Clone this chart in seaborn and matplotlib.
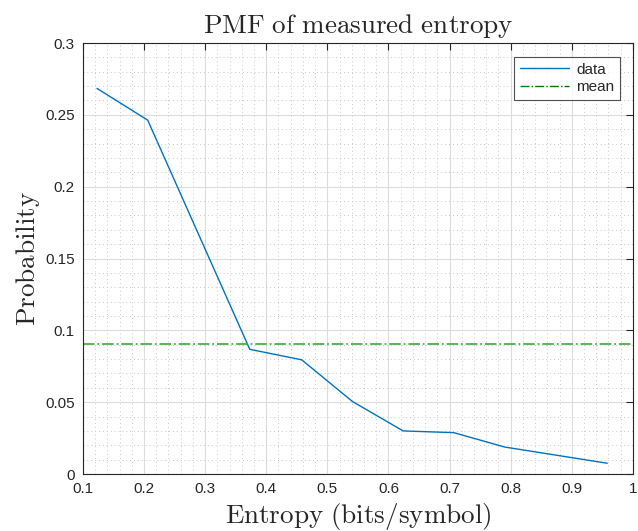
import numpy as np
import pandas as pd
import seaborn as sns
import matplotlib.pyplot as plt
from matplotlib.lines import Line2D
from matplotlib.ticker import MultipleLocator

# Valeurs
entropy = [0.123, 0.206, 0.373, 0.458, 0.541, 0.624, 0.707, 0.790, 0.958]
probability = [0.2684, 0.2463, 0.0868, 0.0795, 0.0505, 0.0300, 0.0288, 0.0188, 0.0075]
mean_prob = 0.0905

df = pd.DataFrame({'entropy': entropy, 'probability': probability})

sns.set_style('white')
plt.rcParams['mathtext.fontset'] = 'cm'
plt.rcParams['font.family'] = ['Liberation Sans', 'DejaVu Sans']

fig = plt.figure(figsize=(6.38, 5.31), dpi=100)
ax = fig.add_axes([0.130, 0.1073, 0.862, 0.8117])

sns.lineplot(data=df, x='entropy', y='probability', ax=ax, color='#0072BD',
             linewidth=1.0, sort=False)
ax.axhline(mean_prob, color='#4daf4a', linestyle='-.', linewidth=1.3)

ax.set_xlim(0.1, 1)
ax.set_ylim(0, 0.3)
ax.xaxis.set_minor_locator(MultipleLocator(0.02))
ax.yaxis.set_minor_locator(MultipleLocator(0.01))
ax.set_xticks(np.arange(0.1, 1.01, 0.1))
ax.set_xticklabels(['0.1', '0.2', '0.3', '0.4', '0.5', '0.6', '0.7', '0.8', '0.9', '1'])
ax.set_yticks(np.arange(0, 0.301, 0.05))
ax.set_yticklabels(['0', '0.05', '0.1', '0.15', '0.2', '0.25', '0.3'])

ax.grid(which='major', color='#dcdcdc', linestyle='-', linewidth=0.8)
ax.grid(which='minor', color='#c8c8c8', linestyle=(0, (1, 3)), linewidth=0.7)
ax.set_axisbelow(True)

ax.tick_params(which='major', direction='in', length=5, width=0.8, colors='#262626',
               top=True, right=True, labelsize=11, pad=6)
ax.tick_params(which='minor', direction='in', length=0, top=True, right=True)
for s in ax.spines.values():
    s.set_color('#262626')
    s.set_linewidth(0.8)
    s.set_visible(True)

ax.set_title(r'$\mathrm{PMF\ of\ measured\ entropy}$', fontsize=19.5, pad=7)
ax.set_xlabel(r'$\mathrm{Entropy\ (bits/symbol)}$', fontsize=19.5, labelpad=3)
ax.set_ylabel(r'$\mathrm{Probability}$', fontsize=19.5, labelpad=2)

handles = [Line2D([], [], color='#0072BD', linewidth=1.0),
           Line2D([], [], color='#007a00', linestyle='-.', linewidth=1.0)]
leg = ax.legend(handles, ['data', 'mean'], loc='upper right', fontsize=11,
                frameon=True, fancybox=False, edgecolor='#262626',
                bbox_to_anchor=(0.976, 0.967), borderaxespad=0,
                handlelength=3.2, handletextpad=0.5, borderpad=0.35,
                labelspacing=0.25)
leg.get_frame().set_linewidth(0.8)

fig.savefig('out.png', dpi=100)
